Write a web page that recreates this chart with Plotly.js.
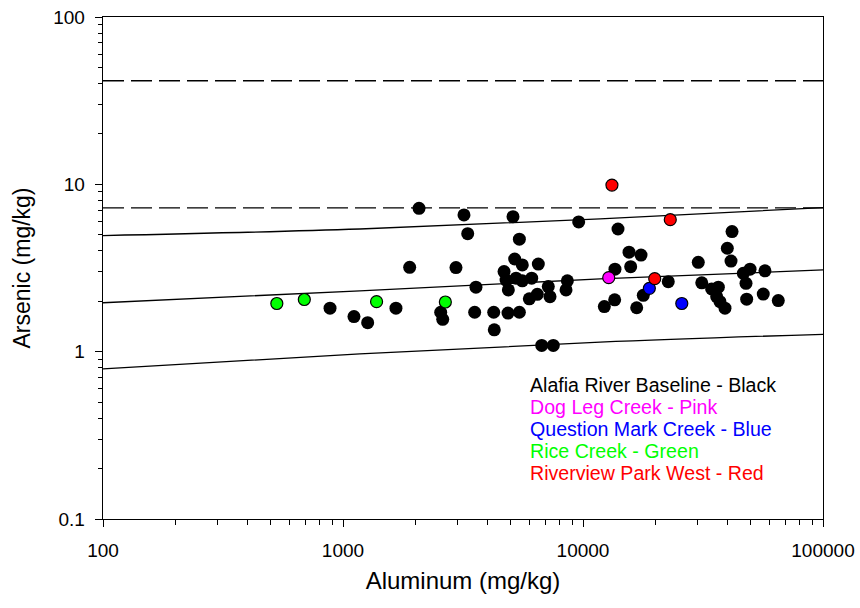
<!DOCTYPE html>
<html>
<head>
<meta charset="utf-8">
<script src="https://cdn.plot.ly/plotly-3.0.1.min.js"></script>
<style>
  html, body { margin: 0; padding: 0; background: #ffffff; }
  #chart { width: 860px; height: 608px; }
</style>
</head>
<body>
<div id="chart"></div>
<script>
// Aluminum (mg/kg) vs Arsenic (mg/kg) in sediment samples

// Alafia River baseline samples
const baselineAl = [883, 1111, 1267, 1662, 1896, 2074, 2553, 2603, 2956, 3192,
  3308, 3581, 3537, 4246, 4269, 4688, 4779, 4886, 4870, 5109,
  5192, 5260, 5431, 5431, 5585, 5585, 5975, 6113, 6451, 6513,
  6730, 7167, 7286, 7520, 8606, 8497, 9593, 12270, 13550, 13590,
  13990, 15550, 15800, 16740, 17450, 17830, 22660, 30220, 31250, 34360,
  36060, 36640, 37220, 39050, 39930, 41380, 41780, 46560, 47770, 48080,
  49660, 56370, 57300, 65120];
const baselineAs = [1.82, 1.62, 1.49, 1.82, 3.19, 7.19, 1.72, 1.56, 3.18, 6.56,
  5.07, 2.43, 1.72, 1.72, 1.35, 3.01, 2.68, 2.34, 1.70, 6.41,
  3.58, 2.75, 4.70, 1.72, 3.30, 2.65, 2.07, 2.75, 2.20, 3.34,
  1.09, 2.45, 2.13, 1.09, 2.65, 2.34, 5.96, 1.86, 2.04, 3.11,
  5.41, 3.93, 3.22, 1.83, 3.78, 2.17, 2.62, 3.42, 2.58, 2.37,
  2.13, 2.43, 1.99, 1.82, 4.15, 3.48, 5.22, 2.94, 2.56, 2.06,
  3.11, 2.21, 3.04, 2.02];

// Site samples
const dogLegAl = [12800];
const dogLegAs = [2.77];
const questionMarkAl = [18900, 25800];
const questionMarkAs = [2.39, 1.94];
const riceCreekAl = [530, 690, 1380, 2670];
const riceCreekAs = [1.94, 2.05, 1.99, 1.98];
const riverviewAl = [13200, 23100, 19900];
const riverviewAs = [9.9, 6.15, 2.73];

// Baseline regression line and prediction limits
const fitAl = [100, 1176, 11780, 100000];
const fitMid = [1.96, 2.31, 2.72, 3.08];
const fitUpper = [4.94, 5.41, 6.21, 7.26];
const fitLower = [0.79, 0.97, 1.14, 1.27];

// Sediment quality guidelines (TEL, PEL)
const guideAl = [100, 100000];
const telAs = 7.24;
const pelAs = 41.6;

// Axis ticks
const xTickVals = [100, 1000, 10000, 100000];
const xTickText = ['100', '1000', '10000', '100000'];
const yTickVals = [0.1, 1, 10, 100];
const yTickText = ['0.1', '1', '10', '100'];

// Legend text lines
const legendLines = ['Alafia River Baseline - Black', 'Dog Leg Creek - Pink',
  'Question Mark Creek - Blue', 'Rice Creek - Green', 'Riverview Park West - Red'];
const legendColors = ['#000000', '#ff00ff', '#0000ff', '#00ff00', '#ff0000'];

function minorLogTicks(lo, hi) {
  const v = [];
  for (let d = lo; d < hi; d++) {
    for (let m = 2; m <= 9; m++) v.push(m * Math.pow(10, d));
  }
  return v;
}

const FONT = 'Liberation Sans, Arial, sans-serif';

const lineStyle = { color: '#000000', width: 1.3 };
const traces = [
  { x: guideAl, y: [pelAs, pelAs], mode: 'lines', line: { color: '#000000', width: 1.3, dash: '21px,7px' }, hoverinfo: 'skip' },
  { x: guideAl, y: [telAs, telAs], mode: 'lines', line: { color: '#000000', width: 1.3, dash: '21px,7px' }, hoverinfo: 'skip' },
  { x: fitAl, y: fitUpper, mode: 'lines', line: Object.assign({ shape: 'spline' }, lineStyle) },
  { x: fitAl, y: fitMid, mode: 'lines', line: Object.assign({ shape: 'spline' }, lineStyle) },
  { x: fitAl, y: fitLower, mode: 'lines', line: Object.assign({ shape: 'spline' }, lineStyle) },
  { x: baselineAl, y: baselineAs, mode: 'markers', name: 'Alafia River Baseline',
    marker: { color: '#000000', size: 13, line: { color: '#000000', width: 0 } } },
  { x: riceCreekAl, y: riceCreekAs, mode: 'markers', name: 'Rice Creek',
    marker: { color: '#00ff00', size: 12, line: { color: '#000000', width: 1.2 } } },
  { x: dogLegAl, y: dogLegAs, mode: 'markers', name: 'Dog Leg Creek',
    marker: { color: '#ff00ff', size: 12, line: { color: '#000000', width: 1.2 } } },
  { x: questionMarkAl, y: questionMarkAs, mode: 'markers', name: 'Question Mark Creek',
    marker: { color: '#0000ff', size: 12, line: { color: '#000000', width: 1.2 } } },
  { x: riverviewAl, y: riverviewAs, mode: 'markers', name: 'Riverview Park West',
    marker: { color: '#ff0000', size: 12, line: { color: '#000000', width: 1.2 } } }
];

const plotTop = 17, plotBottom = 519, plotH = plotBottom - plotTop;
const legendY0 = 385, legendStep = 22;
const annotations = legendLines.map((t, i) => ({
  text: t,
  xref: 'paper', yref: 'paper',
  x: (528 - 103) / 720,
  y: (plotBottom - (legendY0 + i * legendStep)) / plotH,
  xanchor: 'left', yanchor: 'middle',
  showarrow: false,
  font: { family: FONT, size: 19.6, color: legendColors[i] }
}));

const layout = {
  width: 860, height: 608,
  margin: { l: 103, r: 37, t: 17, b: 89 },
  paper_bgcolor: '#ffffff', plot_bgcolor: '#ffffff',
  showlegend: false,
  xaxis: {
    type: 'log', range: [2, 5],
    showgrid: false, zeroline: false,
    showline: true, linecolor: '#000000', linewidth: 1.3, mirror: true,
    tickmode: 'array', tickvals: xTickVals, ticktext: xTickText,
    ticks: 'outside', ticklen: 7, tickwidth: 1, tickcolor: '#000000',
    ticklabelstandoff: 7,
    minor: { tickmode: 'array', tickvals: minorLogTicks(2, 5), ticks: 'outside', ticklen: 5, tickwidth: 1, tickcolor: '#000000', showgrid: false },
    tickfont: { family: FONT, size: 19, color: '#000000' },
    title: { text: 'Aluminum (mg/kg)', font: { family: FONT, size: 24, color: '#000000' }, standoff: 12 }
  },
  yaxis: {
    type: 'log', range: [-1, 2],
    showgrid: false, zeroline: false,
    showline: true, linecolor: '#000000', linewidth: 1.3, mirror: true,
    tickmode: 'array', tickvals: yTickVals, ticktext: yTickText,
    ticks: 'outside', ticklen: 7, tickwidth: 1, tickcolor: '#000000',
    ticklabelstandoff: 6,
    minor: { tickmode: 'array', tickvals: minorLogTicks(-1, 2), ticks: 'outside', ticklen: 4, tickwidth: 1, tickcolor: '#000000', showgrid: false },
    tickfont: { family: FONT, size: 19, color: '#000000' },
    title: { text: 'Arsenic (mg/kg)', font: { family: FONT, size: 23, color: '#000000' }, standoff: 16 }
  },
  annotations: annotations
};

Plotly.newPlot('chart', traces, layout, { displayModeBar: false, staticPlot: true });
</script>
</body>
</html>
